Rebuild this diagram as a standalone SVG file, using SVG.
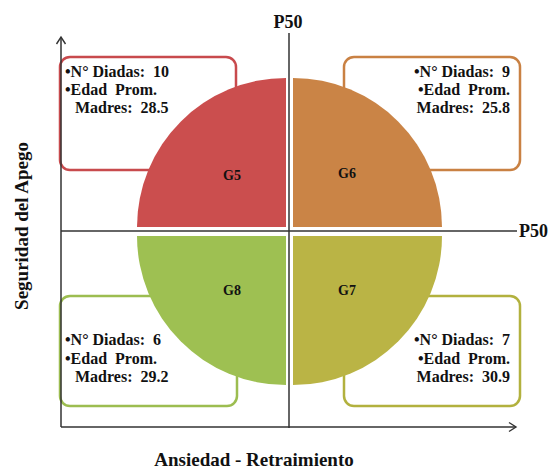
<svg xmlns="http://www.w3.org/2000/svg" width="550" height="470" viewBox="0 0 550 470">
  <defs>
    <marker id="arr" markerWidth="12" markerHeight="12" refX="10" refY="6" orient="auto" markerUnits="userSpaceOnUse">
      <path d="M3,1.5 L10,6 L3,10.5" fill="none" stroke="#333" stroke-width="1.4"/>
    </marker>
    <style>
      text { font-family: "Liberation Serif", "Times New Roman", serif; font-weight: bold; fill: #111; }
      .info { font-size: 16px; white-space: pre; }
      .g { font-size: 14px; text-anchor: middle; }
      .box { fill: #fff; stroke-width: 2.5; }
      .axis { stroke: #333; stroke-width: 1.5; fill: none; }
    </style>
  </defs>
  <rect width="550" height="470" fill="#fff"/>

  <g id="box-g5" class="infobox">
    <rect class="box" x="60" y="57" width="176" height="113" rx="10" stroke="#C84A4D"/>
    <text class="info" x="65" y="77" xml:space="preserve">•N° Diadas:  10</text>
    <text class="info" x="65" y="95" xml:space="preserve">•Edad  Prom.</text>
    <text class="info" x="75" y="113" xml:space="preserve">Madres:  28.5</text>
  </g>
  <g id="box-g6" class="infobox">
    <rect class="box" x="344" y="57" width="176" height="113" rx="10" stroke="#C98143"/>
    <text class="info" x="510" y="77" text-anchor="end" xml:space="preserve">•N° Diadas:  9</text>
    <text class="info" x="510" y="95" text-anchor="end" xml:space="preserve">•Edad  Prom.</text>
    <text class="info" x="510" y="113" text-anchor="end" xml:space="preserve">Madres:  25.8</text>
  </g>
  <g id="box-g8" class="infobox">
    <rect class="box" x="60" y="296" width="177" height="110" rx="10" stroke="#9CBD50"/>
    <text class="info" x="65" y="345" xml:space="preserve">•N° Diadas:  6</text>
    <text class="info" x="65" y="364" xml:space="preserve">•Edad  Prom.</text>
    <text class="info" x="75" y="382" xml:space="preserve">Madres:  29.2</text>
  </g>
  <g id="box-g7" class="infobox">
    <rect class="box" x="344" y="296" width="176" height="110" rx="10" stroke="#B2B13E"/>
    <text class="info" x="510" y="345" text-anchor="end" xml:space="preserve">•N° Diadas:  7</text>
    <text class="info" x="510" y="364" text-anchor="end" xml:space="preserve">•Edad  Prom.</text>
    <text class="info" x="510" y="382" text-anchor="end" xml:space="preserve">Madres:  30.9</text>
  </g>

  <g id="G5">
    <path d="M286,227 L137,227 A149,149 0 0 1 286,78 Z" fill="#CB4E4E"/>
    <text class="g" x="232" y="180">G5</text>
  </g>
  <g id="G6">
    <path d="M293,227 L293,78 A149,149 0 0 1 442,227 Z" fill="#CA8446"/>
    <text class="g" x="347" y="178">G6</text>
  </g>
  <g id="G8">
    <path d="M286,236 L286,385 A149,149 0 0 1 137,236 Z" fill="#9EC052"/>
    <text class="g" x="232" y="295">G8</text>
  </g>
  <g id="G7">
    <path d="M293,236 L442,236 A149,149 0 0 1 293,385 Z" fill="#BAB445"/>
    <text class="g" x="347" y="295">G7</text>
  </g>

  <g id="connectors">
    <line class="axis" x1="61" y1="427" x2="61" y2="37" marker-end="url(#arr)"/>
    <line class="axis" x1="61" y1="427" x2="516" y2="427" marker-end="url(#arr)"/>
    <line class="axis" x1="289" y1="33" x2="289" y2="428"/>
    <line class="axis" x1="61" y1="231" x2="517" y2="231"/>
  </g>

  <g id="labels">
    <text x="288" y="28" font-size="18" text-anchor="middle">P50</text>
    <text x="519" y="237" font-size="18">P50</text>
    <text x="254" y="466" font-size="19" text-anchor="middle">Ansiedad - Retraimiento</text>
    <text x="0" y="0" font-size="19" text-anchor="middle" transform="translate(28,226) rotate(-90)">Seguridad del Apego</text>
  </g>
</svg>
